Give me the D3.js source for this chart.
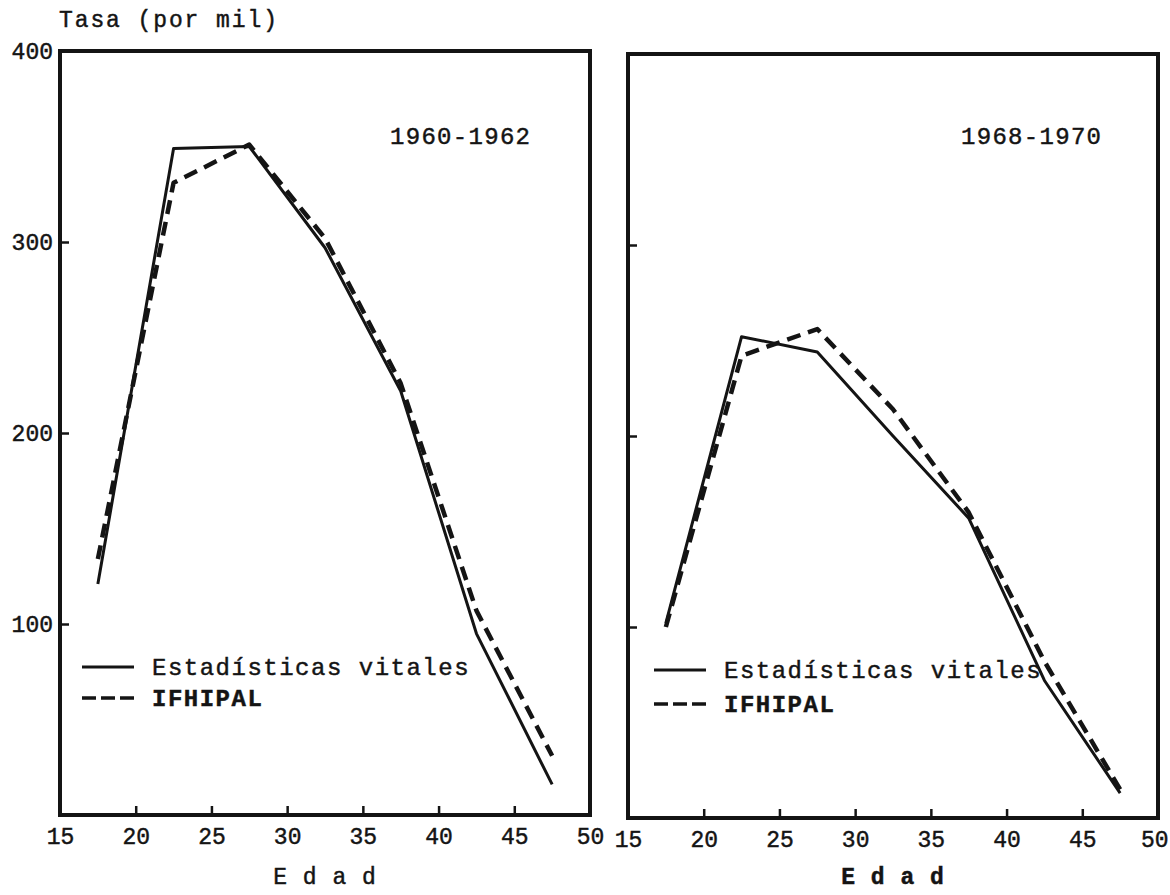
<!DOCTYPE html>
<html><head><meta charset="utf-8">
<script src="https://cdn.jsdelivr.net/npm/d3@7"></script>
<style>
body{margin:0;background:#fff}
text{font-family:'Liberation Mono','DejaVu Sans Mono',monospace;fill:#141414;stroke:#141414;stroke-width:0.45px}
</style>
</head><body>
<svg id="c" width="1170" height="895"></svg>
<script>
// ---- data ----
const ages = [17.5, 22.5, 27.5, 32.5, 37.5, 42.5, 47.5];
const vitales6062 = [121, 349, 350, 297, 222, 95, 16];
const ifhipal6062 = [134, 331, 351, 302, 226, 107, 31];
const vitales6870 = [102, 252, 244, 200, 157, 72, 13];
const ifhipal6870 = [100, 242, 256, 214, 160, 82, 15];
const xTickValues = [15, 20, 25, 30, 35, 40, 45, 50];
const yTickValues = [100, 200, 300, 400];
const periods = ["1960-1962", "1968-1970"];
const seriesNames = ["Estadísticas vitales", "IFHIPAL"];
const yTitle = "Tasa (por mil)";
const xTitle = "E d a d";

// ---- layout ----
const svg = d3.select("#c");
const panels = [
  {l: 60, r: 590, t: 51, b: 815, ev: vitales6062, if: ifhipal6062, period: periods[0], yLabels: true,
   titleX: 390, legX: 82, legTextX: 152, legY: 667, legGap: 31, xTitleBold: false},
  {l: 628, r: 1158, t: 54, b: 818, ev: vitales6870, if: ifhipal6870, period: periods[1], yLabels: false,
   titleX: 961, legX: 654, legTextX: 724, legY: 670, legGap: 34, xTitleBold: true}
];

svg.append("text").attr("x", 59).attr("y", 27)
  .style("font-size", "23px").style("letter-spacing", "1.9px").text(yTitle);

panels.forEach((p, pi) => {
  const x = d3.scaleLinear().domain([15, 50]).range([p.l, p.r]);
  const y = d3.scaleLinear().domain([0, 400]).range([p.b, p.t]);
  const g = svg.append("g");

  // left axis ticks (inward)
  const ya = g.append("g").attr("transform", `translate(${p.l},0)`)
    .call(d3.axisLeft(y).tickValues(yTickValues).tickSize(-9).tickPadding(7)
      .tickFormat(p.yLabels ? d3.format("d") : () => ""));
  ya.select(".domain").remove();
  ya.selectAll(".tick line").attr("stroke", "#141414").attr("stroke-width", 2.5);
  ya.selectAll(".tick text").style("font-size", "23px").style("letter-spacing", "0px")
    .attr("fill", "#141414").attr("font-family", null);

  // bottom axis
  const xa = g.append("g").attr("transform", `translate(0,${p.b})`)
    .call(d3.axisBottom(x).tickValues(xTickValues).tickSize(-9).tickPadding(13)
      .tickFormat(d3.format("d")));
  xa.select(".domain").remove();
  xa.selectAll(".tick line").attr("stroke", "#141414").attr("stroke-width", 2.5);
  xa.selectAll(".tick text").style("font-size", "23px").style("letter-spacing", "0px")
    .attr("fill", "#141414").attr("font-family", null);
  if (pi === 1) {
    xa.selectAll(".tick text").filter(d => d === 50).attr("text-anchor", "end").attr("x", 10);
  }

  // frame
  g.append("rect").attr("x", x(15)).attr("y", y(400))
    .attr("width", x(50) - x(15)).attr("height", y(0) - y(400))
    .attr("fill", "none").attr("stroke", "#141414").attr("stroke-width", 4);

  const line = d3.line().x((d, i) => x(ages[i])).y(d => y(d));
  g.append("path").datum(p.ev).attr("d", line)
    .attr("fill", "none").attr("stroke", "#141414").attr("stroke-width", 3)
    .attr("stroke-linejoin", "round");
  g.append("path").datum(p.if).attr("d", line)
    .attr("fill", "none").attr("stroke", "#141414").attr("stroke-width", 4.5)
    .attr("stroke-dasharray", "14,8").attr("stroke-linecap", "butt").attr("stroke-linejoin", "round");

  // period title
  g.append("text").attr("x", p.titleX).attr("y", 144)
    .style("font-size", "24px").style("letter-spacing", "1.3px").text(p.period);

  // legend
  const lg = g.append("g");
  lg.append("line").attr("x1", p.legX).attr("x2", p.legX + 52).attr("y1", p.legY).attr("y2", p.legY)
    .attr("stroke", "#141414").attr("stroke-width", 3);
  lg.append("line").attr("x1", p.legX).attr("x2", p.legX + 52).attr("y1", p.legY + p.legGap).attr("y2", p.legY + p.legGap)
    .attr("stroke", "#141414").attr("stroke-width", 3.5).attr("stroke-dasharray", "14,5");
  lg.append("text").attr("x", p.legTextX).attr("y", p.legY + 8)
    .style("font-size", "24px").style("letter-spacing", "1.5px").text(seriesNames[0]);
  lg.append("text").attr("x", p.legTextX).attr("y", p.legY + p.legGap + 8)
    .style("font-size", "24px").style("letter-spacing", "1.5px").style("font-weight", "bold").text(seriesNames[1]);

  // x title
  g.append("text").attr("x", (x(15) + x(50)) / 2).attr("y", 884).attr("text-anchor", "middle")
    .style("font-size", "23px").style("letter-spacing", "1px")
    .style("font-weight", p.xTitleBold ? "bold" : "normal").text(xTitle);
});
</script>
</body></html>
